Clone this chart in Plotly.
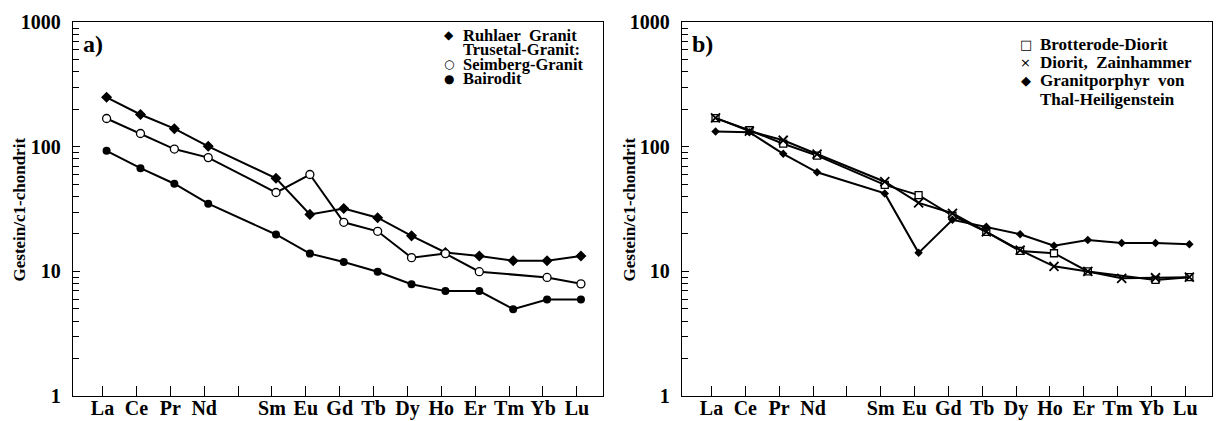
import plotly.graph_objects as go

# ---------------- data ----------------
ELEMENTS = ["La", "Ce", "Pr", "Nd", "Pm", "Sm", "Eu", "Gd", "Tb", "Dy", "Ho", "Er", "Tm", "Yb", "Lu"]
TICK_LABELS = ["La", "Ce", "Pr", "Nd", "", "Sm", "Eu", "Gd", "Tb", "Dy", "Ho", "Er", "Tm", "Yb", "Lu"]

# panel a)
ruhlaer = [250, 182, 140, 101, None, 56, 28.7, 32, 27, 19.3, 14.2, 13.3, 12.2, 12.2, 13.3]
seimberg = [169, 128, 96, 82, None, 43, 60, 24.8, 21, 12.9, 13.9, 9.95, None, 8.95, 7.95]
bairodit = [93, 67.5, 50.6, 35, None, 19.8, 13.9, 11.9, 9.95, 7.9, 6.95, 6.95, 4.98, 5.95, 5.95]

# panel b)
brotterode = [170, 136, 106, 85, None, 49.5, 41, 28, 20.8, 14.6, 14.0, 10, None, 8.55, 9.0]
zainhammer = [171, 134, 113, 87.5, None, 52.5, 35.5, 29.3, 20.8, 14.8, 11.0, 10, 8.8, 8.9, 9.0]
granitporphyr = [133, 131, 88, 62.5, None, 42.3, 14.1, 26, 22.8, 19.9, 16.1, 17.9, 16.9, 16.9, 16.5]

LEGEND_A = ["Ruhlaer\u00a0 Granit", "Trusetal-Granit:", "Seimberg-Granit", "Bairodit"]
LEGEND_A_SYMBOLS = ["\u25c6", "", "\u25cb", "\u25cf"]
LEGEND_B = ["Brotterode-Diorit", "Diorit,\u00a0 Zainhammer", "Granitporphyr\u00a0 von", "Thal-Heiligenstein"]
LEGEND_B_SYMBOLS = ["\u25a1", "\u00d7", "\u25c6", ""]

Y_TITLE = "Gestein/c1-chondrit"
PANEL_LABELS = ["a)", "b)"]

# ---------------- layout helpers ----------------
W, H = 1217, 421
FONT = "Liberation Serif"
x_idx = list(range(len(ELEMENTS)))
tick_pos = [i - 0.12 for i in x_idx]


def px(x):
    return x / W


def py(y):
    return 1 - y / H


fig = go.Figure()


def add_series(vals, xa, ya, symbol, size, fill="black", lw=0):
    fig.add_trace(go.Scatter(
        x=x_idx, y=vals, xaxis=xa, yaxis=ya, mode="lines+markers",
        connectgaps=True, showlegend=False, hoverinfo="skip",
        line=dict(color="black", width=2),
        marker=dict(symbol=symbol, size=size, color=fill,
                    line=dict(color="black", width=lw)),
    ))


add_series(ruhlaer, "x", "y", "diamond", 8.5)
add_series(seimberg, "x", "y", "circle", 8, fill="white", lw=1.3)
add_series(bairodit, "x", "y", "circle", 8)

add_series(brotterode, "x2", "y2", "square", 7, fill="white", lw=1.3)
add_series(zainhammer, "x2", "y2", "x-thin-open", 9, fill="black", lw=1.8)
add_series(granitporphyr, "x2", "y2", "diamond", 6.5)

minor_vals = [m * 10 ** d for d in range(0, 3) for m in range(2, 10)]

yaxis_common = dict(
    type="log", range=[0, 3], domain=[py(396), py(22.3)],
    automargin=False,
    showline=True, mirror=True, linecolor="black", linewidth=1,
    ticks="inside", ticklen=7, tickwidth=1.2, tickcolor="black",
    tickvals=[1, 10, 100, 1000], ticktext=["1", "10", "100", "1000"],
    tickfont=dict(family=FONT, size=20, color="black", weight="bold"),
    ticklabelstandoff=7,
    minor=dict(tickvals=minor_vals, ticks="inside", ticklen=6, tickcolor="black", tickwidth=1, showgrid=False),
    showgrid=False, zeroline=False,
)
xaxis_common = dict(
    range=[-1, 14.66],
    automargin=False,
    showline=True, mirror=True, linecolor="black", linewidth=1,
    ticks="inside", ticklen=10, tickwidth=1, tickcolor="black",
    tickvals=tick_pos, ticktext=TICK_LABELS,
    tickfont=dict(family=FONT, size=20, color="black", weight="bold"),
    ticklabelstandoff=-6,
    showgrid=False, zeroline=False,
)

fig.update_layout(
    template="none",
    width=W, height=H,
    margin=dict(l=0, r=0, t=0, b=0, pad=0),
    paper_bgcolor="white", plot_bgcolor="white",
    showlegend=False,
    xaxis=dict(xaxis_common, domain=[px(72.7), px(603.3)], anchor="y"),
    yaxis=dict(yaxis_common, anchor="x"),
    xaxis2=dict(xaxis_common, domain=[px(681.7), px(1211.7)], anchor="y2"),
    yaxis2=dict(yaxis_common, anchor="x2"),
)

ann = []
# y-axis titles
for xc in (19, 629):
    ann.append(dict(x=px(xc), y=py(209.5), xref="paper", yref="paper", text=Y_TITLE,
                    textangle=-90, showarrow=False, xanchor="center", yanchor="middle",
                    font=dict(family=FONT, size=17, color="black", weight="bold")))
# panel labels
for xl, lab in zip((81, 690), PANEL_LABELS):
    ann.append(dict(x=px(xl), y=py(43.5), xref="paper", yref="paper", text=lab,
                    showarrow=False, xanchor="left", yanchor="middle",
                    font=dict(family=FONT, size=24, color="black", weight="bold")))

# legends
rows_a = [35, 49.5, 64, 78.5]
rows_b = [44, 62.5, 80.7, 99]
for yr, txt, sym in zip(rows_a, LEGEND_A, LEGEND_A_SYMBOLS):
    ann.append(dict(x=px(460.5), y=py(yr), xref="paper", yref="paper", text=txt,
                    showarrow=False, xanchor="left", yanchor="middle",
                    font=dict(family=FONT, size=16.5, color="black", weight="bold")))
    if sym:
        ann.append(dict(x=px(449), y=py(yr), xref="paper", yref="paper", text=sym,
                        showarrow=False, xanchor="center", yanchor="middle",
                        font=dict(family="DejaVu Sans", size=12, color="black")))
for yr, txt, sym in zip(rows_b, LEGEND_B, LEGEND_B_SYMBOLS):
    ann.append(dict(x=px(1038), y=py(yr), xref="paper", yref="paper", text=txt,
                    showarrow=False, xanchor="left", yanchor="middle",
                    font=dict(family=FONT, size=17, color="black", weight="bold")))
    if sym:
        ann.append(dict(x=px(1025.7), y=py(yr), xref="paper", yref="paper", text=sym,
                        showarrow=False, xanchor="center", yanchor="middle",
                        font=dict(family="DejaVu Sans", size=13, color="black")))

fig.update_layout(annotations=ann)
fig.write_html(
    "out.html",
    config={"displayModeBar": False, "staticPlot": True},
    post_script="document.body.style.margin='0';document.body.style.overflow='hidden';",
)
